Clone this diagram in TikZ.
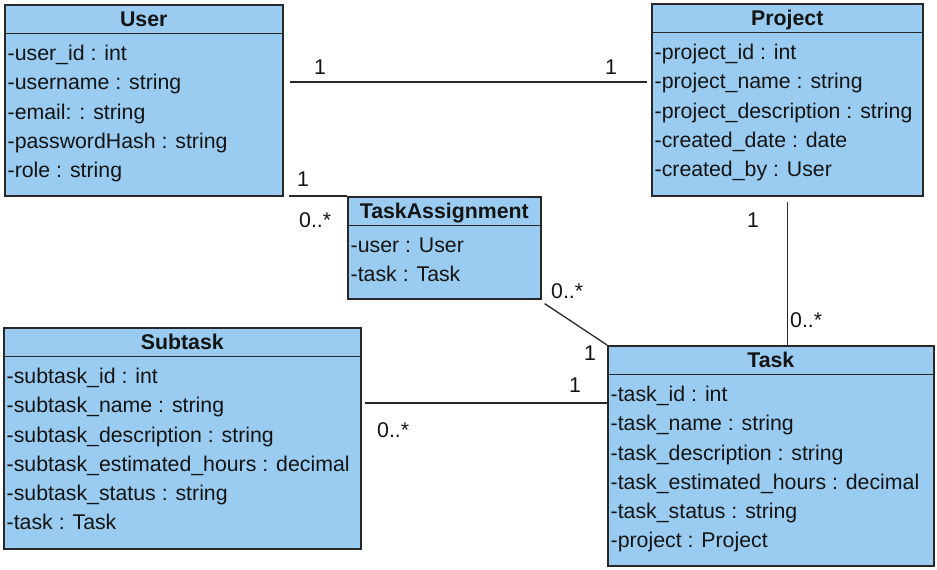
\documentclass[tikz,border=0pt]{standalone}
\usepackage{fontspec}
\setmainfont{Liberation Sans}
\definecolor{clsfill}{RGB}{153,204,240}
\definecolor{clsline}{RGB}{40,40,40}
\definecolor{txt}{RGB}{20,20,20}
\tikzset{
  every node/.style={font=\fontsize{21.3}{25}\selectfont, text=txt},
  classbox/.style={draw=clsline, fill=clsfill, line width=1.6pt, inner sep=0pt},
  boxline/.style={draw=clsline, line width=1.6pt},
  hdr/.style={font=\fontsize{21.3}{25}\selectfont\bfseries, inner sep=0pt},
  attr/.style={inner sep=0pt},
  mult/.style={inner sep=0pt},
  assoc/.style={draw=clsline, line width=1.3pt}
}
\newcommand\umlclass[7]{%
  \node[classbox, minimum width=#4pt, minimum height=#5pt, anchor=north west] (#1) at (#2,#3) {};
  \draw[boxline] ([yshift=-29.5pt]#1.north west) -- ([yshift=-29.5pt]#1.north east);
  \node[hdr, anchor=base] (#1-title) at ([yshift=-22.5pt]#1.north) {#6};
  \foreach \r [count=\i] in {#7}
    \node[attr, anchor=base west] (#1-\i) at ([xshift=3.5pt, yshift={-56.5pt-(\i-1)*29.3pt}]#1.north west) {\r};
}
\begin{document}
\begin{tikzpicture}[x=1pt,y=1pt]
\useasboundingbox (0,0) rectangle (937,570);
\umlclass{user}{4}{566}{278}{191}{User}{-user\_id : int,-username : string,-email: : string,-passwordHash : string,-role : string}
\umlclass{project}{651}{567}{271}{192}{Project}{-project\_id : int,-project\_name : string,-project\_description : string,-created\_date : date,-created\_by : User}
\umlclass{ta}{347}{374}{193}{102}{TaskAssignment}{-user : User,-task : Task}
\umlclass{subtask}{3}{243}{357}{221}{Subtask}{-subtask\_id : int,-subtask\_name : string,-subtask\_description : string,-subtask\_estimated\_hours : decimal,-subtask\_status : string,-task : Task}
\umlclass{task}{607}{225}{326}{220}{Task}{-task\_id : int,-task\_name : string,-task\_description : string,-task\_estimated\_hours : decimal,-task\_status : string,-project : Project}

\coordinate (up) at (0,488);
\coordinate (st) at (0,167);
% connectors
\draw[assoc] ([xshift=6pt]user.east |- up) -- ([xshift=-4pt]project.west |- up);
\draw[assoc] ([xshift=5pt]user.east |- ta.north west) -- (ta.north west);
\draw[assoc] ([shift={(3pt,-4pt)}]ta.south east) -- (task.north west);
\draw[assoc] ([yshift=-5pt]project.south) -- (project.south |- task.north);
\draw[assoc] ([xshift=3pt]subtask.east |- st) -- (task.west |- st);

% multiplicities
\node[mult, anchor=base] (m1) at (320,495) {1};
\node[mult, anchor=base] (m2) at (611,495) {1};
\node[mult, anchor=base] (m3) at (303,383) {1};
\node[mult, anchor=base west] (m4) at (299,342) {0..*};
\node[mult, anchor=base west] (m5) at (551,271) {0..*};
\node[mult, anchor=base] (m6) at (590,209.5) {1};
\node[mult, anchor=base] (m7) at (753,342) {1};
\node[mult, anchor=base west] (m8) at (790,242) {0..*};
\node[mult, anchor=base] (m9) at (575,177) {1};
\node[mult, anchor=base west] (m10) at (377,132) {0..*};
\end{tikzpicture}
\end{document}
